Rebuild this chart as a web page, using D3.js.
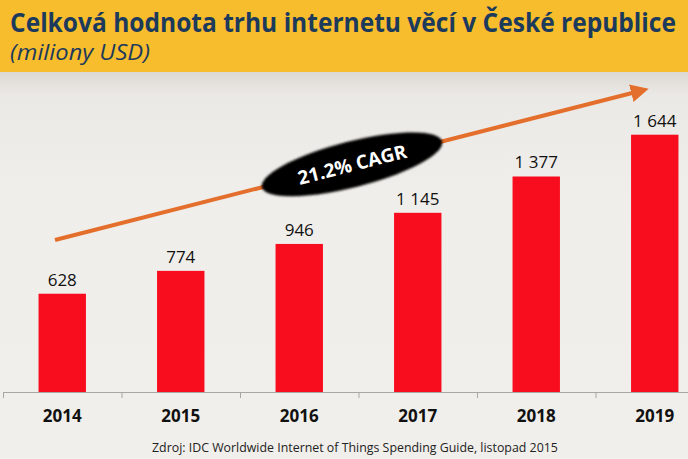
<!DOCTYPE html>
<html>
<head>
<meta charset="utf-8">
<script src="https://cdn.jsdelivr.net/npm/d3@7"></script>
<style>
  body { margin: 0; background: #efede9; }
  svg { display: block; }
</style>
</head>
<body>
<script>
var years = ["2014", "2015", "2016", "2017", "2018", "2019"];
var values = [628, 774, 946, 1145, 1377, 1644];
var valueLabels = ["628", "774", "946", "1 145", "1 377", "1 644"];
var titleText = "Celková hodnota trhu internetu věcí v České republice";
var subtitleText = "(miliony USD)";
var cagrText = "21.2% CAGR";
var sourceText = "Zdroj: IDC Worldwide Internet of Things Spending Guide, listopad 2015";

var width = 688, height = 459;

var svg = d3.select("body").append("svg")
            .attr("width", width)
            .attr("height", height);

// scale a text horizontally so it spans `w` pixels starting at x0
function fitWidth(sel, x0, w) {
    var natural = sel.node().getComputedTextLength();
    var k = w / natural;
    sel.attr("x", 0)
       .attr("transform", "translate(" + x0 + "," + sel.attr("y") + ") scale(" + k + ",1)")
       .attr("y", 0);
}

var defs = svg.append("defs");
var bg = defs.append("linearGradient").attr("id", "bg")
             .attr("x1", 0).attr("y1", 0).attr("x2", 0).attr("y2", 1);
bg.append("stop").attr("offset", "0").attr("stop-color", "#dcd9d4");
bg.append("stop").attr("offset", "0.06").attr("stop-color", "#ebe9e5");
bg.append("stop").attr("offset", "0.3").attr("stop-color", "#f0eeea");
bg.append("stop").attr("offset", "1").attr("stop-color", "#f1efeb");

// soft edge for the CAGR badge
defs.append("filter").attr("id", "soft")
    .attr("x", "-10%").attr("y", "-30%").attr("width", "120%").attr("height", "160%")
  .append("feGaussianBlur").attr("stdDeviation", 1.2);

defs.append("marker")
    .attr("id", "arrow")
    .attr("viewBox", "0 0 10 10")
    .attr("refX", 5).attr("refY", 5)
    .attr("markerWidth", 4.5).attr("markerHeight", 4.5)
    .attr("orient", "auto")
  .append("path")
    .attr("d", "M0,0 L10,5 L0,10 z")
    .attr("fill", "#e46f2c");

// background + header
svg.append("rect").attr("x", 0).attr("y", 72).attr("width", width).attr("height", height - 72)
   .attr("fill", "url(#bg)");
svg.append("rect").attr("x", 0).attr("y", 0).attr("width", width).attr("height", 72)
   .attr("fill", "#f8bd2c");

var title = svg.append("text")
   .attr("y", 32)
   .style("font-family", "'Liberation Sans Narrow', 'Open Sans', sans-serif")
   .style("font-weight", "bold")
   .style("font-size", "27px")
   .style("fill", "#1c3a5b")
   .text(titleText);
fitWidth(title, 10, 666);

var subtitle = svg.append("text")
   .attr("y", 60)
   .style("font-family", "'Open Sans', sans-serif")
   .style("font-style", "italic")
   .style("font-size", "21px")
   .style("fill", "#1c3a5b")
   .text(subtitleText);
fitWidth(subtitle, 10, 140);

// scales
var x = d3.scaleBand().domain(years).range([3, 714])
          .paddingInner(0.6).paddingOuter(0.3);
var y = d3.scaleLinear().domain([0, 2000]).range([392, 79]);

// axis
var xAxis = d3.axisBottom(x).tickSize(6).tickSizeOuter(0).tickFormat("");
var axisG = svg.append("g")
   .attr("transform", "translate(0," + y(0) + ")")
   .call(xAxis);
axisG.select(".domain").attr("stroke", "#a9a7a4");
// ticks sit at band edges, not centers
axisG.selectAll(".tick")
   .attr("transform", function(d) { return "translate(" + (x(d) - x.step() * x.paddingInner() / 2 + 0.5) + ",0)"; });
axisG.selectAll(".tick line").attr("stroke", "#a9a7a4");

// bars
svg.selectAll("rect.bar")
   .data(values)
   .enter()
     .append("rect")
     .classed("bar", true)
     .attr("x", function(d, i) { return x(years[i]); })
     .attr("y", function(d) { return y(d); })
     .attr("width", x.bandwidth())
     .attr("height", function(d) { return y(0) - y(d); })
     .attr("fill", "#f80d1e");

// value labels
svg.selectAll("text.val")
   .data(values)
   .enter()
     .append("text")
     .classed("val", true)
     .attr("x", function(d, i) { return x(years[i]) + x.bandwidth() / 2; })
     .attr("y", function(d) { return y(d) - 8; })
     .attr("text-anchor", "middle")
     .style("font-family", "'Open Sans', sans-serif")
     .style("font-size", "17px")
     .style("fill", "#111")
     .text(function(d, i) { return valueLabels[i]; });

// year labels
svg.selectAll("text.year")
   .data(years)
   .enter()
     .append("text")
     .classed("year", true)
     .attr("x", function(d) { return x(d) + x.bandwidth() / 2; })
     .attr("y", 422)
     .attr("text-anchor", "middle")
     .style("font-family", "'Open Sans', sans-serif")
     .style("font-weight", "bold")
     .style("font-size", "17px")
     .style("fill", "#111")
     .text(function(d) { return d; });

// growth arrow
var arrowStart = [55, 240], arrowEnd = [640, 91];
svg.append("line")
   .attr("x1", arrowStart[0]).attr("y1", arrowStart[1])
   .attr("x2", arrowEnd[0]).attr("y2", arrowEnd[1])
   .attr("stroke", "#e46f2c")
   .attr("stroke-width", 4)
   .attr("marker-end", "url(#arrow)");

var angle = Math.atan2(arrowEnd[1] - arrowStart[1], arrowEnd[0] - arrowStart[0]) * 180 / Math.PI;
var cx = 352, cy = arrowStart[1] + (352 - arrowStart[0]) * (arrowEnd[1] - arrowStart[1]) / (arrowEnd[0] - arrowStart[0]);
var badge = svg.append("g").attr("transform", "translate(" + cx + "," + cy + ") rotate(" + angle + ")");
badge.append("ellipse").attr("rx", 93).attr("ry", 23).attr("fill", "#050505")
   .attr("filter", "url(#soft)");
badge.append("text")
   .attr("y", 7)
   .attr("text-anchor", "middle")
   .style("font-family", "'Open Sans', sans-serif")
   .style("font-weight", "bold")
   .style("font-size", "19px")
   .style("fill", "#fff")
   .text(cagrText);

// source
var source = svg.append("text")
   .attr("y", 452)
   .style("font-family", "'Open Sans', sans-serif")
   .style("font-size", "13px")
   .style("fill", "#222")
   .text(sourceText);
fitWidth(source, 152, 406);
</script>
</body>
</html>
